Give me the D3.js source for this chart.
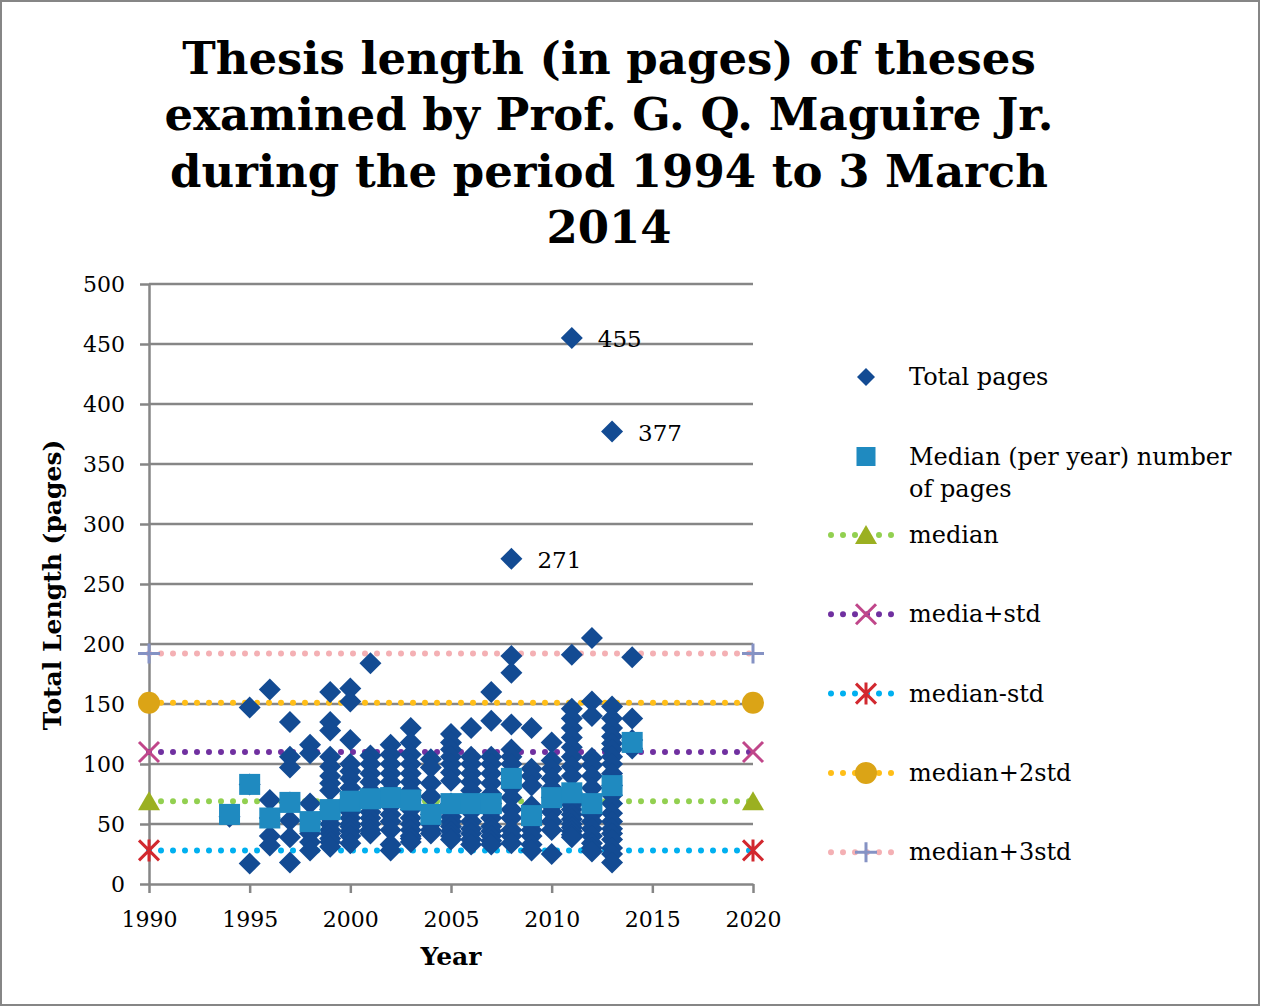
<!DOCTYPE html>
<html><head><meta charset="utf-8">
<script src="https://cdn.jsdelivr.net/npm/d3@7"></script>
<style>body{margin:0;background:#fff}svg{display:block}</style>
</head><body>
<svg id="chart" width="1261" height="1007"></svg>
<script>
// ---------- DATA ----------
const titleLines = ["Thesis length (in pages) of theses", "examined by Prof. G. Q. Maguire Jr.", "during the period 1994 to 3 March", "2014"];
const xTicks = [1990, 1995, 2000, 2005, 2010, 2015, 2020];
const yTicks = [0, 50, 100, 150, 200, 250, 300, 350, 400, 450, 500];

const pages1994 = [56];
const pages1995 = [147, 83, 17];
const pages1996 = [162, 70, 55, 40, 32];
const pages1997 = [135, 106, 97, 68, 53, 39, 18];
const pages1998 = [116, 109, 67, 52, 42, 35, 28];
const pages1999 = [160, 135, 128, 106, 98, 90, 84, 78, 62, 60, 55, 50, 45, 42, 38, 35, 31];
const pages2000 = [163, 152, 120, 100, 94, 88, 80, 75, 69, 65, 60, 55, 50, 48, 44, 40, 34];
const pages2001 = [184, 107, 100, 92, 85, 78, 71, 66, 60, 55, 50, 45, 42];
const pages2002 = [116, 108, 100, 92, 85, 78, 72, 65, 58, 52, 45, 33, 28];
const pages2003 = [130, 118, 108, 100, 92, 85, 78, 70, 62, 55, 50, 45, 40, 38, 35];
const pages2004 = [104, 97, 84, 73, 58, 55, 50, 45, 42];
const pages2005 = [125, 118, 112, 106, 100, 93, 86, 67, 62, 56, 52, 48, 44, 40, 37];
const pages2006 = [130, 106, 100, 92, 85, 78, 67, 60, 52, 46, 42, 37, 33];
const pages2007 = [160, 136, 106, 100, 92, 84, 75, 67, 60, 55, 48, 44, 40, 36, 33];
const pages2008 = [271, 190, 176, 133, 112, 106, 100, 88, 80, 72, 62, 55, 45, 40, 34];
const pages2009 = [130, 96, 90, 82, 65, 57, 50, 45, 40, 33, 28];
const pages2010 = [118, 103, 96, 88, 80, 72, 65, 60, 52, 45, 25];
const pages2011 = [455, 191, 146, 138, 130, 122, 114, 106, 98, 90, 76, 70, 66, 62, 58, 54, 50, 47, 44, 41, 39];
const pages2012 = [205, 152, 140, 105, 99, 90, 80, 67, 58, 52, 46, 40, 34, 30, 27];
const pages2013 = [377, 148, 138, 130, 123, 117, 112, 106, 100, 92, 82, 74, 67, 59, 52, 46, 42, 37, 30, 25, 18];
const pages2014 = [189, 138, 120, 113];

const pointYears = [1994, 1995, 1996, 1997, 1998, 1999, 2000, 2001, 2002, 2003, 2004, 2005, 2006, 2007, 2008, 2009, 2010, 2011, 2012, 2013, 2014];
const pagesPerYear = [pages1994, pages1995, pages1996, pages1997, pages1998, pages1999, pages2000, pages2001, pages2002, pages2003, pages2004, pages2005, pages2006, pages2007, pages2008, pages2009, pages2010, pages2011, pages2012, pages2013, pages2014];

const medianPerYear = [58, 83, 55, 68, 52, 62, 69, 71, 72, 70, 58, 67, 67, 67, 88, 57, 72, 76, 67, 82, 118];

const labelYears = [2011, 2013, 2008];
const labelValues = [455, 377, 271];

const refNames = ["median", "media+std", "median-std", "median+2std", "median+3std"];
const refValues = [69, 110, 28, 151, 192];
const refLineColors = ["#92D050", "#7030A0", "#00B0F0", "#FFBE17", "#F4B0B4"];
const refMarkerColors = ["#9BB021", "#C0468A", "#D2282F", "#DBA416", "#8592C4"];
const refMarkers = ["triangle", "x", "star", "circle", "plus"];
const refYears = [1990, 2020];

const legendNames = ["Total pages", "Median (per year) number", "of pages"];

// ---------- CHART ----------
const svg = d3.select("#chart");
const FONT = "'DejaVu Serif', 'Liberation Serif', serif";
const GRID = "#868686";
const DIAMOND = "#134B93";
const SQUARE = "#1F8AC0";

svg.append("rect").attr("x", 1).attr("y", 1).attr("width", 1258).attr("height", 1004)
  .attr("fill", "#fff").attr("stroke", GRID).attr("stroke-width", 2);

const x = d3.scaleLinear().domain([1990, 2020]).range([149, 753]);
const y = d3.scaleLinear().domain([0, 500]).range([884, 284]);

// title
const titleBase = [74, 130, 187, 243];
svg.append("g").selectAll("text").data(titleLines).join("text")
  .attr("x", 609).attr("y", (d, i) => titleBase[i])
  .attr("text-anchor", "middle")
  .attr("font-family", FONT).attr("font-weight", "bold").attr("font-size", 45)
  .attr("fill", "#000").text(d => d);

// gridlines
svg.append("g").selectAll("line").data(yTicks.filter(d => d > 0)).join("line")
  .attr("x1", x(1990)).attr("x2", x(2020))
  .attr("y1", d => y(d)).attr("y2", d => y(d))
  .attr("stroke", GRID).attr("stroke-width", 2.5);

// axes
const yAxis = svg.append("g").attr("transform", `translate(${x(1990)},0)`)
  .call(d3.axisLeft(y).tickValues(yTicks).tickSize(9).tickSizeOuter(0).tickPadding(15));
const xAxis = svg.append("g").attr("transform", `translate(0,${y(0)})`)
  .call(d3.axisBottom(x).tickValues(xTicks).tickFormat(d3.format("d")).tickSize(9).tickSizeOuter(0).tickPadding(18));
[yAxis, xAxis].forEach(a => {
  a.select(".domain").attr("stroke", GRID).attr("stroke-width", 2.5);
  a.selectAll(".tick line").attr("stroke", GRID).attr("stroke-width", 2.5);
  a.selectAll(".tick text").attr("font-family", FONT).attr("font-size", 22).attr("fill", "#000");
});

// axis titles
svg.append("text").attr("x", 451).attr("y", 965).attr("text-anchor", "middle")
  .attr("font-family", FONT).attr("font-weight", "bold").attr("font-size", 25).text("Year");
svg.append("text").attr("transform", "translate(61,585) rotate(-90)").attr("text-anchor", "middle")
  .attr("font-family", FONT).attr("font-weight", "bold").attr("font-size", 25).text("Total Length (pages)");

// marker helpers
function drawMarker(g, type, cx, cy, color) {
  if (type === "triangle") {
    g.append("path").attr("d", `M${cx},${cy - 10}L${cx + 11},${cy + 9}L${cx - 11},${cy + 9}Z`).attr("fill", color);
  } else if (type === "circle") {
    g.append("circle").attr("cx", cx).attr("cy", cy).attr("r", 11).attr("fill", color);
  } else if (type === "x") {
    g.append("path").attr("d", `M${cx - 10},${cy - 10}L${cx + 10},${cy + 10}M${cx - 10},${cy + 10}L${cx + 10},${cy - 10}`)
      .attr("stroke", color).attr("stroke-width", 3).attr("fill", "none");
  } else if (type === "star") {
    g.append("path").attr("d", `M${cx - 10},${cy - 10}L${cx + 10},${cy + 10}M${cx - 10},${cy + 10}L${cx + 10},${cy - 10}M${cx},${cy - 11}L${cx},${cy + 11}`)
      .attr("stroke", color).attr("stroke-width", 3).attr("fill", "none");
  } else if (type === "plus") {
    g.append("path").attr("d", `M${cx - 11},${cy}L${cx + 11},${cy}M${cx},${cy - 10}L${cx},${cy + 10}`)
      .attr("stroke", color).attr("stroke-width", 3).attr("fill", "none");
  }
}
const diamondPath = (cx, cy, r) => `M${cx},${cy - r}L${cx + r},${cy}L${cx},${cy + r}L${cx - r},${cy}Z`;

// reference lines (dotted)
const refG = svg.append("g");
refValues.forEach((v, i) => {
  refG.append("line").attr("x1", x(refYears[0])).attr("x2", x(refYears[1]))
    .attr("y1", y(v)).attr("y2", y(v))
    .attr("stroke", refLineColors[i]).attr("stroke-width", 6)
    .attr("stroke-linecap", "round").attr("stroke-dasharray", "0 12");
});

// scatter: total pages
const points = [];
pointYears.forEach((yr, i) => pagesPerYear[i].forEach(p => points.push([yr, p])));
svg.append("g").selectAll("path").data(points).join("path")
  .attr("d", d => diamondPath(x(d[0]), y(d[1]), 11)).attr("fill", DIAMOND);

// median per year squares
svg.append("g").selectAll("rect").data(pointYears).join("rect")
  .attr("x", d => x(d) - 10.5).attr("y", (d, i) => y(medianPerYear[i]) - 10.5)
  .attr("width", 21).attr("height", 21).attr("fill", SQUARE);

// ref line end markers
const endG = svg.append("g");
refValues.forEach((v, i) => {
  refYears.forEach(yr => drawMarker(endG, refMarkers[i], x(yr), y(v), refMarkerColors[i]));
});

// data labels
svg.append("g").selectAll("text").data(labelValues).join("text")
  .attr("x", (d, i) => x(labelYears[i]) + 26).attr("y", d => y(d) + 9)
  .attr("font-family", FONT).attr("font-size", 23).attr("fill", "#000").text(d => d);

// legend
const lg = svg.append("g");
const lgMarkX = 866, lgTextX = 909, LFS = 24;
lg.append("path").attr("d", diamondPath(lgMarkX, 377, 9)).attr("fill", DIAMOND);
lg.append("text").attr("x", lgTextX).attr("y", 385).attr("font-family", FONT).attr("font-size", LFS).text(legendNames[0]);
lg.append("rect").attr("x", lgMarkX - 9.5).attr("y", 447).attr("width", 19).attr("height", 19).attr("fill", SQUARE);
lg.append("text").attr("x", lgTextX).attr("y", 465).attr("font-family", FONT).attr("font-size", LFS).text(legendNames[1]);
lg.append("text").attr("x", lgTextX).attr("y", 497).attr("font-family", FONT).attr("font-size", LFS).text(legendNames[2]);
refNames.forEach((name, i) => {
  const cy = 535 + i * 79.3;
  lg.append("line").attr("x1", 831).attr("x2", 892).attr("y1", cy).attr("y2", cy)
    .attr("stroke", refLineColors[i]).attr("stroke-width", 6)
    .attr("stroke-linecap", "round").attr("stroke-dasharray", "0 12");
  drawMarker(lg, refMarkers[i], lgMarkX, cy, refMarkerColors[i]);
  lg.append("text").attr("x", lgTextX).attr("y", cy + 8).attr("font-family", FONT).attr("font-size", LFS).text(name);
});
</script></body></html>
